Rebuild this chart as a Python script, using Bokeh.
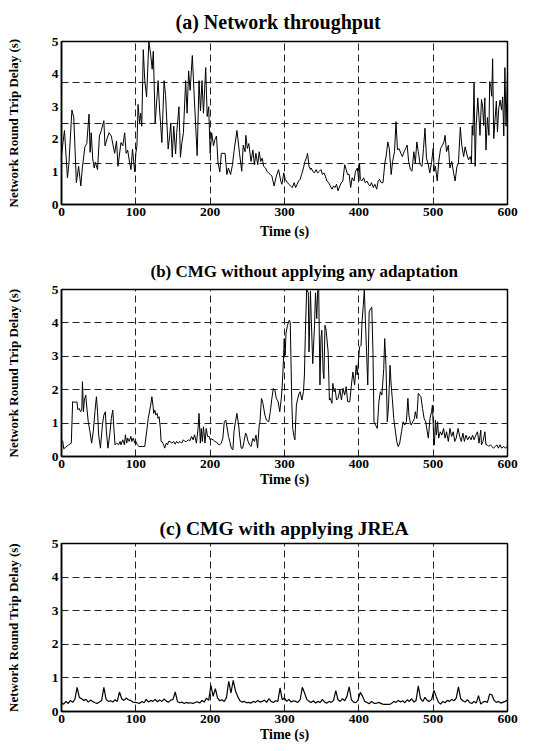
from bokeh.plotting import figure
from bokeh.models import ColumnDataSource, FixedTicker, Range1d
from bokeh.layouts import column
from bokeh.embed import file_html
from bokeh.resources import INLINE

# ---------------- data ----------------
x_ticks = [0, 100, 200, 300, 400, 500, 600]
y_ticks = [0, 1, 2, 3, 4, 5]
x_grid = [100, 200, 300, 400, 500]
grid_a = [1.25, 2.5, 3.75]
grid_bc = [1, 2, 3, 4]

title_a = "(a) Network throughput"
title_b = "(b) CMG without applying any adaptation"
title_c = "(c) CMG with applying JREA"
x_label = "Time (s)"
y_label = "Network Round Trip Delay (s)"

a_t = [0, 2, 4, 8, 10, 14, 16.5, 20, 23, 26, 28, 31.5, 34, 37, 38.5, 40, 42, 44, 45.5, 48.5,
       51, 53.5, 57, 58.5, 61, 64, 67, 69.5, 71.5, 74, 76, 80, 82.5, 85, 87, 89, 91.5, 93.5, 95.5, 98.5,
       100, 101.5, 103, 105, 106.5, 108, 110, 112, 114.5, 117.5, 120, 122, 123.5, 126, 130, 132, 135, 138, 140, 143.5,
       145.5, 147, 149, 151, 153.5, 155, 158, 160, 162, 164, 167, 169, 171, 173, 176, 178, 182.5, 185, 187, 189,
       191, 194, 196, 198, 200, 202, 204.5, 206.5, 208.5, 210.5, 213, 215, 217, 220, 222.5, 224.5, 227.5, 230, 232, 236,
       239.5, 242.5, 244.5, 247, 248, 250, 252, 255, 257.5, 259.5, 261.5, 264, 266, 268, 270, 272, 274.5, 276.5, 278.5, 281,
       283, 286, 289, 292, 295, 296.5, 299, 301, 304, 306, 308, 310.5, 313, 315, 317, 319, 321, 323, 325.5, 327.5,
       330, 331, 333, 335, 336, 338, 340, 342.5, 344.5, 347, 349, 351, 353, 355, 357, 359.5, 361.5, 364, 366, 368,
       370, 372, 374.5, 376.5, 378.5, 381, 383, 385, 387, 389, 391, 393.5, 395.5, 398, 400, 401, 402, 404, 406.5, 408.5,
       411, 413, 415, 417, 419.5, 421.5, 424, 426, 428, 430, 432.5, 435, 437, 439, 441, 443.5, 445.5, 448, 450, 452,
       454, 456.5, 458.5, 461, 463, 465, 467, 469.5, 471.5, 474, 476, 478, 480, 482.5, 485, 487, 489, 491, 493.5, 495.5,
       498, 500, 501.5, 503, 505.5, 507.5, 510, 512.5, 514.5, 516, 518, 520.5, 522.5, 525, 527.5, 529.5, 532, 534, 536.5, 538.5,
       541, 543, 545.5, 547.5, 550, 551.5, 552.5, 553.5, 555, 556.5, 558, 560, 561.5, 563, 565, 566.5, 568, 569.5, 571, 573,
       575, 576, 577.5, 578.8, 580, 581.5, 583, 585, 586.5, 588, 590, 592, 593.5, 595, 596.5, 598, 600]
a_v = [1.5, 1.9, 2.27, 0.82, 1.27, 2.9, 2.67, 0.67, 1.17, 0.57, 1.12, 1.77, 1.87, 2.77, 1.6, 2.2, 1.4, 1.12, 1.3, 1.07,
       2.1, 2.27, 2.57, 1.8, 2.0, 2.2, 2.1, 1.8, 1.57, 1.95, 1.17, 1.9, 1.8, 2.2, 1.57, 1.67, 1.3, 1.07, 1.7, 1.0,
       1.57, 1.8, 3.07, 2.5, 2.8, 2.4, 4.75, 3.8, 3.3, 5.0, 4.6, 4.15, 4.7, 2.5, 3.8, 2.9, 1.9, 3.8, 3.35, 1.7,
       2.1, 2.5, 1.45, 2.4, 1.55, 2.2, 3.0, 1.45, 1.9, 2.2, 3.8, 2.8, 4.1, 3.5, 4.57, 3.57, 1.5, 3.8, 2.87, 3.8,
       2.8, 4.2, 2.7, 3.0, 1.57, 2.2, 1.8, 2.0, 2.1, 1.3, 1.0, 1.57, 1.57, 1.57, 0.92, 1.12, 0.92, 1.22, 1.62, 2.27,
       1.57, 1.02, 1.82, 1.62, 2.12, 1.72, 1.87, 1.32, 1.67, 1.22, 1.57, 1.22, 1.62, 1.32, 1.42, 1.17, 1.12, 1.02, 0.97, 0.92,
       0.87, 0.57, 0.87, 1.07, 0.72, 0.62, 0.97, 0.77, 0.67, 0.62, 0.57, 0.52, 0.67, 0.52, 0.62, 0.72, 0.77, 0.92, 1.12, 1.32,
       1.47, 1.57, 1.17, 1.07, 1.12, 1.02, 0.97, 1.07, 0.97, 1.02, 1.07, 0.92, 0.97, 0.87, 0.72, 0.67, 0.57, 0.47, 0.57, 0.52,
       0.62, 0.42, 0.57, 0.67, 0.72, 1.22, 1.07, 0.92, 0.92, 0.52, 0.82, 0.72, 1.02, 1.12, 0.72, 1.27, 0.77, 0.72, 0.82, 0.67,
       0.72, 0.62, 0.57, 0.67, 0.52, 0.62, 0.47, 0.72, 0.77, 0.67, 0.67, 1.27, 1.52, 1.92, 1.72, 0.92, 1.32, 1.62, 2.54, 1.67,
       1.72, 1.57, 1.47, 1.62, 1.72, 1.82, 1.32, 1.07, 1.02, 1.62, 1.27, 1.92, 1.62, 1.22, 1.17, 1.72, 2.34, 1.42, 1.22, 0.97,
       1.32, 1.72, 1.02, 1.17, 0.72, 1.32, 1.72, 1.82, 1.92, 2.12, 1.62, 1.82, 1.12, 1.32, 0.97, 0.72, 1.17, 1.27, 2.37, 1.82,
       1.47, 1.77, 1.52, 1.37, 1.47, 1.27, 2.42, 2.12, 3.72, 1.17, 2.47, 3.27, 2.72, 2.12, 3.22, 3.02, 2.42, 3.27, 1.67, 2.67,
       2.12, 3.77, 3.62, 3.32, 4.47, 2.02, 2.52, 3.17, 2.22, 2.9, 3.2, 2.9, 3.3, 2.1, 4.2, 2.4, 4.0]

b_t = [0, 1.8, 3, 5.3, 9.7, 13.2, 15, 18.5, 20.7, 22, 23.8, 25.6, 27.3, 28.2, 29.5, 30.8, 32.6, 34.4, 36, 38.3,
       40.5, 42.7, 45, 47, 48.5, 50, 52.4, 55, 57, 59, 60.4, 62.5, 64.8, 67, 69, 70.5, 72, 74.4, 76.7, 78.9,
       80, 82.4, 84.6, 86, 87.7, 89, 91, 93.4, 94.7, 96.5, 98.7, 100, 102, 104.4, 109, 112, 114.5, 116.7, 120, 121.6,
       123.3, 124, 125.5, 127, 128.6, 130, 131.3, 133, 134, 135, 137.4, 138.8, 141, 142.7, 144, 146, 148.5, 150.7, 152.9, 155,
       157, 159.5, 161.7, 163.9, 166, 168, 170.5, 172.7, 175, 177, 179, 181.5, 183.7, 185, 186.8, 188, 189.4, 191, 193, 194.7,
       196.5, 198.7, 200, 202, 204, 206.4, 208.5, 210.6, 212.8, 215, 217, 219, 221, 222.6, 224.7, 226.4, 228.5, 230.6, 232, 234,
       236, 238.3, 239.6, 241.7, 243.8, 245.5, 247.7, 249, 251, 253, 255, 257.4, 259.6, 261.7, 263.8, 266, 267, 269, 271, 273.6,
       275.7, 278.7, 280.9, 283, 285, 287, 289, 291.5, 293.6, 295.7, 297, 298.3, 299.6, 300.9, 302, 304, 306.4, 307.7, 309.8, 311,
       312.8, 314, 316, 317.9, 319.6, 321, 323.4, 325.5, 326.8, 328, 329.8, 332, 333, 334.9, 336, 338, 340.4, 341.7, 343.4, 344.7,
       346, 347.7, 349, 350.2, 352, 353, 354.5, 356, 358.7, 360.4, 361.7, 363.8, 365, 366.8, 368, 370, 372, 374.5, 376.6, 378.7,
       380.9, 383, 385, 387.8, 390, 392, 394.3, 396.5, 397.8, 399, 401, 403, 404.3, 406, 407.4, 408.7, 410.4, 412, 413.9, 415.7,
       417.4, 419, 420.4, 422.6, 424.8, 427, 429, 431, 433.5, 434.8, 436.5, 438.3, 440, 442, 443.5, 445, 447, 448.7, 451, 453,
       455, 457.4, 459.6, 461.7, 464, 466, 467.4, 469, 470.4, 472.6, 474.8, 476, 478, 480, 481.7, 483.5, 485.7, 487.8, 490, 492,
       493.5, 495.7, 497.8, 499, 501, 501.7, 503, 504.3, 506, 507.4, 509.6, 511.7, 514, 516, 518, 520.4, 522.6, 524.8, 527, 529,
       531, 533.5, 535.7, 537.8, 540, 542, 544, 546.5, 548.7, 551, 553, 555, 557.4, 559.6, 561.7, 564, 565, 567, 569.6, 571,
       572.6, 574.8, 577, 579, 581, 583.5, 585.7, 587.8, 590, 592, 595, 597, 600]
b_v = [0.5, 0.45, 0.23, 0.27, 0.35, 0.4, 1.64, 1.62, 1.64, 1.4, 1.44, 1.34, 1.39, 2.24, 1.34, 1.69, 1.84, 1.39, 1.04, 0.74,
       0.4, 0.74, 1.34, 1.79, 1.34, 0.64, 0.25, 0.94, 1.24, 1.34, 0.74, 0.25, 0.64, 1.14, 1.39, 0.84, 0.35, 0.4, 0.35, 0.45,
       0.35, 0.5, 0.35, 0.65, 0.4, 0.55, 0.45, 0.6, 0.45, 0.55, 0.4, 0.45, 0.35, 0.3, 0.3, 0.3, 0.74, 1.14, 1.54, 1.79,
       1.49, 1.29, 1.39, 1.24, 1.29, 1.14, 1.19, 0.84, 0.45, 0.45, 0.35, 0.25, 0.4, 0.35, 0.45, 0.45, 0.4, 0.45, 0.37, 0.45,
       0.4, 0.45, 0.4, 0.5, 0.45, 0.45, 0.5, 0.47, 0.6, 0.5, 0.65, 0.4, 0.84, 1.29, 0.4, 0.84, 0.45, 0.89, 0.4, 0.84,
       0.6, 0.6, 0.5, 0.52, 0.5, 0.45, 0.43, 0.37, 0.35, 0.4, 0.54, 1.04, 1.09, 0.89, 0.6, 0.45, 0.25, 0.2, 0.74, 1.04,
       1.29, 0.94, 0.64, 0.25, 0.25, 0.45, 0.7, 0.64, 0.45, 0.35, 0.3, 0.54, 0.45, 0.64, 0.25, 0.94, 1.04, 1.74, 1.59, 1.24,
       1.09, 1.04, 1.34, 1.74, 2.04, 1.99, 1.74, 1.64, 1.34, 1.74, 2.14, 2.73, 3.53, 3.03, 3.68, 3.93, 4.08, 4.03, 1.64, 0.84,
       0.6, 0.5, 1.54, 1.74, 1.89, 1.94, 1.69, 1.94, 2.44, 3.63, 5.0, 4.9, 3.13, 4.95, 4.13, 2.78, 3.93, 4.9, 4.13, 4.97,
       5.0, 2.14, 3.53, 3.78, 2.53, 2.33, 3.93, 3.78, 3.13, 1.69, 1.74, 1.59, 2.19, 1.94, 2.04, 1.69, 1.74, 1.99, 1.69, 2.04,
       1.84, 2.09, 1.64, 1.64, 2.14, 2.53, 2.14, 2.73, 2.44, 2.73, 3.28, 3.33, 4.03, 4.52, 5.0, 4.13, 3.13, 2.14, 4.33, 4.42,
       4.47, 3.13, 1.04, 0.94, 0.84, 1.64, 1.94, 1.84, 2.63, 3.53, 2.73, 1.04, 1.54, 2.73, 2.14, 1.74, 1.14, 0.84, 0.45, 0.3,
       0.4, 0.74, 1.04, 0.94, 1.04, 1.74, 1.24, 1.04, 0.94, 1.04, 1.14, 1.34, 1.14, 1.89, 1.84, 1.79, 1.44, 1.14, 1.04, 0.74,
       0.55, 1.14, 1.34, 1.54, 0.4, 0.35, 1.09, 0.64, 1.04, 0.55, 0.74, 0.64, 0.84, 0.55, 0.74, 0.45, 0.84, 0.6, 0.74, 0.45,
       0.55, 0.84, 0.6, 0.45, 0.7, 0.45, 0.64, 0.5, 0.6, 0.5, 0.64, 0.5, 0.64, 0.74, 0.4, 0.79, 0.35, 0.45, 0.74, 0.35,
       0.35, 0.3, 0.35, 0.3, 0.25, 0.3, 0.35, 0.25, 0.35, 0.25, 0.3, 0.25, 0.3]

c_t = list(range(0, 601, 3))
c_v = [0.25, 0.22, 0.3, 0.24, 0.33, 0.27, 0.36, 0.72, 0.42, 0.38, 0.33, 0.36, 0.28, 0.34, 0.3, 0.26, 0.24, 0.28, 0.33, 0.72,
       0.36, 0.3, 0.32, 0.28, 0.35, 0.3, 0.58, 0.38, 0.33, 0.4, 0.35, 0.33, 0.28, 0.27, 0.26, 0.24, 0.3, 0.26, 0.36, 0.28,
       0.33, 0.3, 0.36, 0.29, 0.34, 0.3, 0.37, 0.31, 0.28, 0.34, 0.36, 0.58, 0.3, 0.26, 0.28, 0.24, 0.27, 0.25, 0.26, 0.24,
       0.27, 0.29, 0.25, 0.33, 0.28, 0.4, 0.33, 0.78, 0.45, 0.68, 0.4, 0.32, 0.35, 0.3, 0.42, 0.9, 0.55, 0.93, 0.62, 0.45,
       0.32, 0.28, 0.3, 0.26, 0.27, 0.25, 0.3, 0.27, 0.33, 0.28, 0.3, 0.34, 0.27, 0.38, 0.3, 0.27, 0.32, 0.3, 0.7, 0.35,
       0.4, 0.3, 0.36, 0.28, 0.32, 0.3, 0.27, 0.35, 0.72, 0.55, 0.36, 0.3, 0.27, 0.32, 0.25, 0.3, 0.27, 0.36, 0.28, 0.25,
       0.3, 0.27, 0.33, 0.62, 0.35, 0.3, 0.38, 0.32, 0.45, 0.73, 0.35, 0.28, 0.26, 0.35, 0.57, 0.45, 0.3, 0.27, 0.23, 0.3,
       0.25, 0.24, 0.27, 0.25, 0.22, 0.21, 0.21, 0.21, 0.24, 0.3, 0.27, 0.33, 0.28, 0.32, 0.26, 0.35, 0.3, 0.38, 0.28, 0.33,
       0.76, 0.38, 0.3, 0.42, 0.33, 0.3, 0.36, 0.63, 0.45, 0.28, 0.22, 0.3, 0.26, 0.33, 0.3, 0.36, 0.32, 0.4, 0.73, 0.38,
       0.32, 0.28, 0.35, 0.27, 0.24, 0.3, 0.25, 0.47, 0.22, 0.28, 0.3, 0.27, 0.52, 0.5, 0.33, 0.27, 0.3, 0.25, 0.28, 0.3,
       0.35]

FONT = "Liberation Serif"


def make_panel(title_text, t, v, grid_y, height, left, right, top, bottom,
               title_size, title_offset, title_standoff, xlabel_standoff, line_w):
    p = figure(width=537, height=height,
               x_range=Range1d(0, 600), y_range=Range1d(0, 5),
               output_backend="svg", toolbar_location=None,
               min_border_left=left, min_border_right=right,
               min_border_top=top, min_border_bottom=bottom)
    p.title.text = title_text
    p.title.align = "left"
    p.title.offset = title_offset
    p.title.text_font = FONT
    p.title.text_font_style = "bold"
    p.title.text_font_size = title_size
    p.title.text_color = "black"
    p.title.standoff = title_standoff

    p.xaxis.ticker = FixedTicker(ticks=x_ticks)
    p.yaxis.ticker = FixedTicker(ticks=y_ticks)
    p.xgrid.ticker = FixedTicker(ticks=x_grid)
    p.ygrid.ticker = FixedTicker(ticks=grid_y)
    for g in (p.xgrid, p.ygrid):
        g.grid_line_color = "#222222"
        g.grid_line_dash = "7 4"
        g.grid_line_width = 1

    for ax in (p.xaxis, p.yaxis):
        ax.major_tick_line_color = None
        ax.minor_tick_line_color = None
        ax.major_tick_out = 0
        ax.major_tick_in = 0
        ax.minor_tick_out = 0
        ax.minor_tick_in = 0
        ax.axis_line_color = "black"
        ax.axis_line_width = 1.5
        ax.major_label_text_font = FONT
        ax.major_label_text_font_style = "bold"
        ax.major_label_text_font_size = "13.5px"
        ax.major_label_text_color = "black"
        ax.axis_label_text_font = FONT
        ax.axis_label_text_font_style = "bold"
        ax.axis_label_text_color = "black"
        ax.major_label_standoff = 3
    p.xaxis.axis_label = x_label
    p.xaxis.axis_label_text_font_size = "14px"
    p.xaxis.axis_label_standoff = xlabel_standoff
    p.yaxis.axis_label = y_label
    p.yaxis.axis_label_text_font_size = "13px"
    p.yaxis.axis_label_standoff = 28

    p.outline_line_color = "black"
    p.outline_line_width = 1.5
    p.outline_line_alpha = 1

    src = ColumnDataSource(data=dict(t=t, v=v))
    p.line("t", "v", source=src, line_color="black", line_width=line_w)
    return p


pa = make_panel(title_a, a_t, a_v, grid_a, 250, 61, 25, 38, 46, "20px", 114, 17, 5, 1)
pb = make_panel(title_b, b_t, b_v, grid_bc, 250, 58, 30, 39, 44, "17px", 89, 18, 1, 1)
pc = make_panel(title_c, c_t, c_v, grid_bc, 251, 57, 29, 43, 40, "19.5px", 98, 10, 1, 1.2)

layout = column(pa, pb, pc, spacing=0)
open("out.html", "w").write(file_html(layout, INLINE))
